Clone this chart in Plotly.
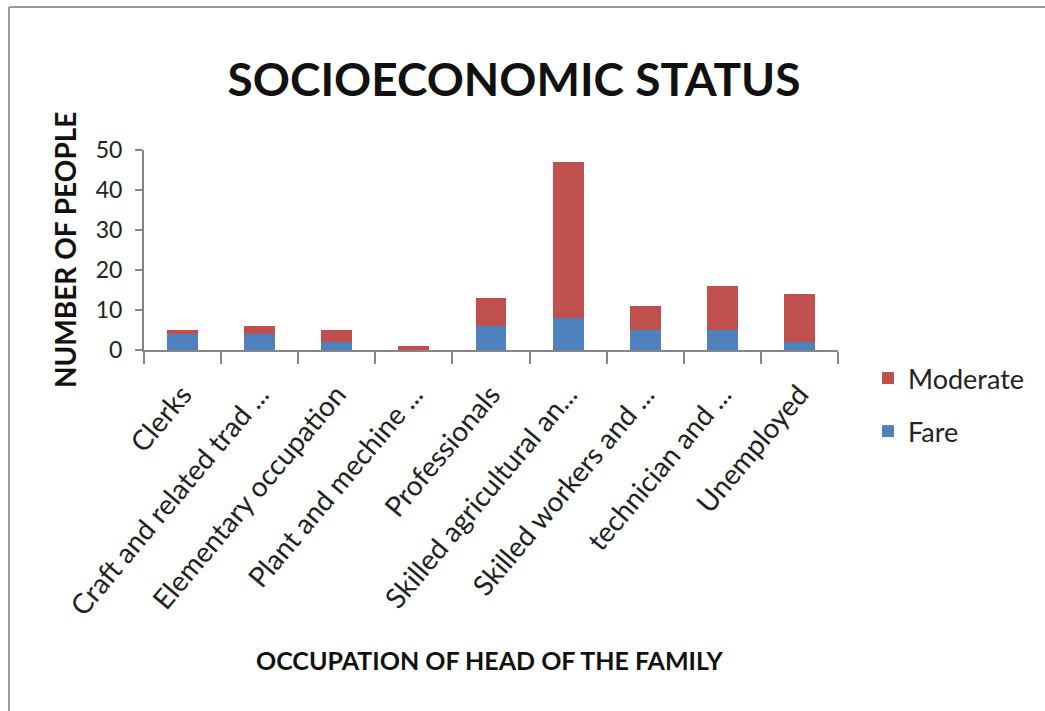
import plotly.graph_objects as go

# Occupation categories (labels shortened as they appear on the axis)
occupations = [
    "Clerks",
    "Craft and related trad ...",
    "Elementary occupation",
    "Plant and mechine ...",
    "Professionals",
    "Skilled agricultural an...",
    "Skilled workers and ...",
    "technician and ...",
    "Unemployed",
]
fare = [4, 4, 2, 0, 6, 8, 5, 5, 2]
moderate = [1, 2, 3, 1, 7, 39, 6, 11, 12]

y_ticks = [0, 10, 20, 30, 40, 50]

W, H = 1045, 711
ML, MR, MT, MB = 144, 207, 150, 361
PW, PH = W - ML - MR, H - MT - MB

def px_x(x):
    return (x - ML) / PW

def px_y(y):
    return (H - MB - y) / PH

FONT = "Lato"
RED = "#C0504D"
BLUE = "#4F81BD"
AXIS = "#868686"

fig = go.Figure()
fig.add_trace(go.Bar(x=occupations, y=fare, name="Fare", marker_color=BLUE,
                     marker_line_width=0, legendgroup="f", legendrank=2))
fig.add_trace(go.Bar(x=occupations, y=moderate, name="Moderate", marker_color=RED,
                     marker_line_width=0, legendgroup="m", legendrank=1))

fig.update_layout(
    width=W, height=H,
    margin=dict(l=ML, r=MR, t=MT, b=MB),
    paper_bgcolor="white", plot_bgcolor="white",
    barmode="stack", bargap=0.6,
    font=dict(family=FONT, color="#222222"),
    title=dict(text="<b>SOCIOECONOMIC STATUS</b>", font=dict(size=46, color="#111111", family=FONT),
               x=514 / W, xanchor="center", xref="container",
               y=1 - 80 / H, yanchor="middle", yref="container"),
    showlegend=True,
    legend=dict(x=px_x(868), y=px_y(354), xanchor="left", yanchor="top",
                traceorder="grouped", tracegroupgap=15,
                font=dict(size=27, color="#222222", family=FONT),
                itemwidth=30, bgcolor="rgba(0,0,0,0)"),
)

fig.update_xaxes(
    type="category", showline=True, linecolor=AXIS, linewidth=2,
    ticks="outside", tickson="boundaries", ticklen=12, tickcolor=AXIS, tickwidth=2,
    tickangle=-50, ticklabelstandoff=15,
    tickfont=dict(size=28, color="#222222", family=FONT),
    showgrid=False, zeroline=False,
)
fig.update_yaxes(
    range=[0, 50], tickvals=y_ticks, showline=True, linecolor=AXIS, linewidth=2,
    ticks="outside", ticklen=7, tickcolor=AXIS, tickwidth=2, ticklabelstandoff=8,
    tickfont=dict(size=23, color="#222222", family=FONT),
    showgrid=False, zeroline=False,
)

# Axis titles
fig.add_annotation(text="<b>NUMBER OF PEOPLE</b>", textangle=-90,
                   xref="paper", yref="paper", x=px_x(65), y=px_y(250),
                   xanchor="center", yanchor="middle", showarrow=False,
                   font=dict(size=28, color="#111111", family=FONT))
fig.add_annotation(text="<b>OCCUPATION OF HEAD OF THE FAMILY</b>",
                   xref="paper", yref="paper", x=px_x(490), y=px_y(660),
                   xanchor="center", yanchor="middle", showarrow=False,
                   font=dict(size=25, color="#111111", family=FONT))

# Chart frame (top and left edges)
frame = dict(color="#9a9a9a", width=2)
fig.add_shape(type="line", xref="paper", yref="paper",
              x0=px_x(9), x1=px_x(W), y0=px_y(7), y1=px_y(7), line=frame)
fig.add_shape(type="line", xref="paper", yref="paper",
              x0=px_x(9), x1=px_x(9), y0=px_y(7), y1=px_y(H), line=frame)

fig.write_html("out.html")
